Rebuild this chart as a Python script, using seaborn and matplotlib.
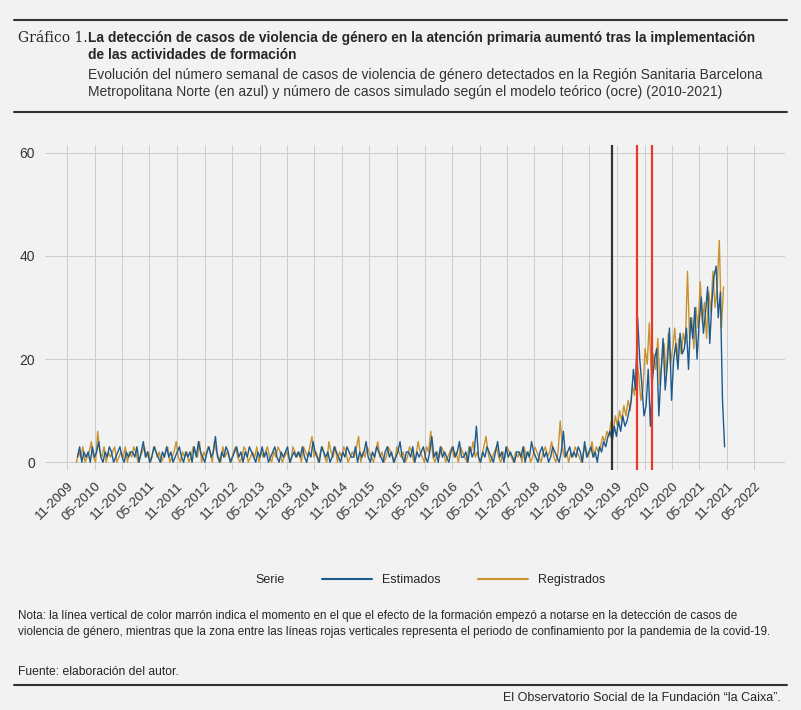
import pandas as pd
import numpy as np
import matplotlib
matplotlib.use('Agg')
import matplotlib.pyplot as plt
from matplotlib.lines import Line2D
import seaborn as sns

sns.set_style('whitegrid')
plt.rcParams['font.family'] = ['Liberation Sans', 'DejaVu Sans']

# valores quincenales estimados a ojo (2010 - oct 2021)
estimados = [
    1, 3, 0, 2, 1, 2, 0, 3, 1, 2, 4, 1, 0, 2, 1, 3, 2, 0, 1, 2, 3, 1, 0, 2, 1, 2,
    2, 1, 3, 0, 2, 4, 1, 2, 0, 1, 3, 2, 1, 0, 2, 1, 3, 1, 2, 0, 1, 2, 3, 1, 0, 2,
    1, 2, 0, 3, 1, 4, 2, 1, 0, 2, 3, 1, 2, 5, 1, 0, 2, 1, 3, 2, 0, 1, 2, 3, 1, 2,
    0, 2, 1, 3, 2, 1, 0, 2, 1, 3, 1, 2, 0, 1, 2, 3, 1, 0, 2, 1, 2, 3, 0, 1, 2, 1,
    2, 1, 3, 1, 0, 2, 1, 4, 2, 1, 0, 3, 2, 1, 2, 0, 1, 3, 2, 1, 0, 2, 1, 3, 2, 1,
    1, 3, 0, 2, 1, 2, 4, 1, 0, 2, 1, 3, 2, 1, 0, 2, 3, 1, 2, 0, 1, 2, 4, 1, 0, 2,
    2, 1, 3, 0, 2, 1, 2, 3, 1, 0, 2, 5, 1, 2, 0, 3, 1, 2, 1, 0, 2, 3, 1, 2, 4, 1,
    1, 2, 0, 3, 1, 2, 7, 1, 0, 2, 1, 3, 2, 1, 0, 2, 4, 1, 2, 0, 3, 1, 2, 1, 0, 2,
    2, 1, 3, 0, 2, 1, 4, 2, 1, 0, 2, 3, 1, 2, 0, 1, 3, 2, 1, 0, 2, 6, 1, 2, 3, 1,
    2, 1, 3, 2, 0, 4, 1, 2, 3, 1, 2, 0, 3, 2, 4, 3, 5, 6, 4, 7, 5, 8, 6, 9, 7, 8,
    10, 12, 18, 14, 28, 20, 15, 9, 11, 18, 7, 16, 20, 22, 9, 17, 24, 14, 19, 26, 12, 20, 23, 18, 25, 21,
    22, 26, 18, 28, 24, 30, 20, 27, 32, 25, 29, 34, 23, 31, 36, 38, 28, 33, 12, 3,
]
registrados = [
    0, 2, 1, 3, 0, 1, 2, 4, 1, 0, 6, 2, 1, 3, 0, 2, 1, 2, 3, 0, 1, 2, 1, 3, 0, 2,
    1, 3, 2, 0, 1, 2, 3, 1, 2, 0, 2, 3, 1, 2, 0, 1, 2, 3, 0, 1, 2, 4, 1, 0, 2, 1,
    2, 0, 1, 3, 2, 1, 4, 0, 2, 1, 3, 2, 0, 4, 2, 1, 0, 3, 1, 2, 1, 0, 2, 3, 1, 0,
    1, 3, 2, 0, 1, 2, 1, 3, 0, 2, 1, 2, 3, 1, 0, 2, 1, 3, 2, 0, 1, 2, 1, 0, 3, 2,
    1, 2, 0, 3, 2, 1, 3, 5, 1, 2, 0, 2, 3, 1, 0, 4, 2, 1, 3, 0, 2, 1, 3, 2, 0, 1,
    2, 1, 3, 5, 0, 2, 1, 3, 2, 1, 0, 2, 4, 1, 2, 0, 1, 3, 2, 1, 0, 3, 2, 1, 2, 0,
    1, 3, 2, 0, 1, 4, 2, 1, 0, 3, 2, 6, 1, 0, 2, 1, 3, 2, 0, 1, 2, 3, 1, 2, 0, 3,
    2, 1, 0, 3, 2, 4, 1, 2, 0, 1, 3, 5, 2, 0, 1, 2, 3, 1, 0, 2, 1, 3, 2, 1, 0, 2,
    1, 2, 0, 3, 1, 2, 0, 1, 3, 2, 1, 0, 2, 3, 1, 2, 4, 1, 0, 2, 8, 3, 1, 2, 0, 2,
    1, 3, 2, 1, 0, 2, 3, 1, 2, 4, 1, 3, 2, 3, 5, 4, 6, 5, 8, 6, 9, 7, 10, 8, 11, 9,
    12, 10, 15, 13, 20, 17, 12, 14, 22, 19, 27, 16, 21, 18, 24, 15, 20, 23, 17, 25, 19, 22, 26, 20, 24, 21,
    25, 23, 37, 24, 28, 22, 30, 26, 35, 27, 31, 24, 33, 29, 37, 30, 34, 43, 26, 34,
]
fechas_est = pd.date_range('2010-01-08', '2021-10-15', periods=len(estimados))
fechas_reg = pd.date_range('2010-01-01', '2021-10-08', periods=len(registrados))

df = pd.concat([
    pd.DataFrame({'fecha': fechas_est, 'casos': estimados, 'Serie': 'Estimados'}),
    pd.DataFrame({'fecha': fechas_reg, 'casos': registrados, 'Serie': 'Registrados'}),
])
colores = {'Estimados': '#1d5a8c', 'Registrados': '#c9922e'}
orden = ['Registrados', 'Estimados']

bg = '#f2f2f2'
fig = plt.figure(figsize=(8.01, 7.10), dpi=100, facecolor=bg)
ax = fig.add_axes([0.056, 0.338, 0.924, 0.458], facecolor=bg)
sns.lineplot(data=df, x='fecha', y='casos', hue='Serie', hue_order=orden,
             palette=colores, linewidth=1, ax=ax, legend=False)

ax.axvline(pd.Timestamp('2019-09-25'), color='#333333', lw=1.6)
ax.axvline(pd.Timestamp('2020-03-14'), color='#e8392b', lw=1.6)
ax.axvline(pd.Timestamp('2020-06-21'), color='#e8392b', lw=1.6)

ticks = pd.date_range('2009-11-01', '2022-05-01', freq='6MS')
ax.set_xticks(ticks)
ax.set_xticklabels([t.strftime('%m-%Y') for t in ticks], rotation=45, ha='right',
                   rotation_mode='anchor', fontsize=9.5, color='#333333')
ax.set_xlim(pd.Timestamp('2009-06-05'), pd.Timestamp('2022-11-20'))
ax.set_ylim(-1.5, 61.5)
ax.set_yticks([0, 20, 40, 60])
ax.tick_params(axis='y', labelsize=10, colors='#333333')
ax.grid(color='#cccccc', lw=0.7)
for s in ax.spines.values():
    s.set_visible(False)
ax.set_xlabel('')
ax.set_ylabel('')

handles = [Line2D([], [], color='none'),
           Line2D([], [], color=colores['Estimados'], lw=1.5),
           Line2D([], [], color=colores['Registrados'], lw=1.5)]
fig.legend(handles, ['Serie', 'Estimados', 'Registrados'], loc='center',
           bbox_to_anchor=(0.5, 0.183), ncol=3, frameon=False, fontsize=9,
           handlelength=4, columnspacing=3)

# textos y filetes
for y in [0.972, 0.842, 0.035]:
    fig.add_artist(Line2D([0.018, 0.982], [y, y], color='#333333', lw=1.5))
fig.text(0.022, 0.947, 'Gráfico 1.', fontsize=10, family='DejaVu Serif', va='center')
fig.text(0.11, 0.947, 'La detección de casos de violencia de género en la atención primaria aumentó tras la implementación',
         fontsize=9.9, weight='bold', va='center')
fig.text(0.11, 0.922, 'de las actividades de formación', fontsize=9.9, weight='bold', va='center')
fig.text(0.11, 0.895, 'Evolución del número semanal de casos de violencia de género detectados en la Región Sanitaria Barcelona',
         fontsize=10, color='#333333', va='center')
fig.text(0.11, 0.870, 'Metropolitana Norte (en azul) y número de casos simulado según el modelo teórico (ocre) (2010-2021)',
         fontsize=10, color='#333333', va='center')
fig.text(0.022, 0.133, 'Nota: la línea vertical de color marrón indica el momento en el que el efecto de la formación empezó a notarse en la detección de casos de',
         fontsize=8.4, va='center')
fig.text(0.022, 0.110, 'violencia de género, mientras que la zona entre las líneas rojas verticales representa el periodo de confinamiento por la pandemia de la covid-19.',
         fontsize=8.4, va='center')
fig.text(0.022, 0.054, 'Fuente: elaboración del autor.', fontsize=8.7, va='center')
fig.text(0.975, 0.017, 'El Observatorio Social de la Fundación “la Caixa”.', fontsize=9,
         ha='right', va='center')

fig.savefig('out.png', dpi=100, facecolor=bg)
